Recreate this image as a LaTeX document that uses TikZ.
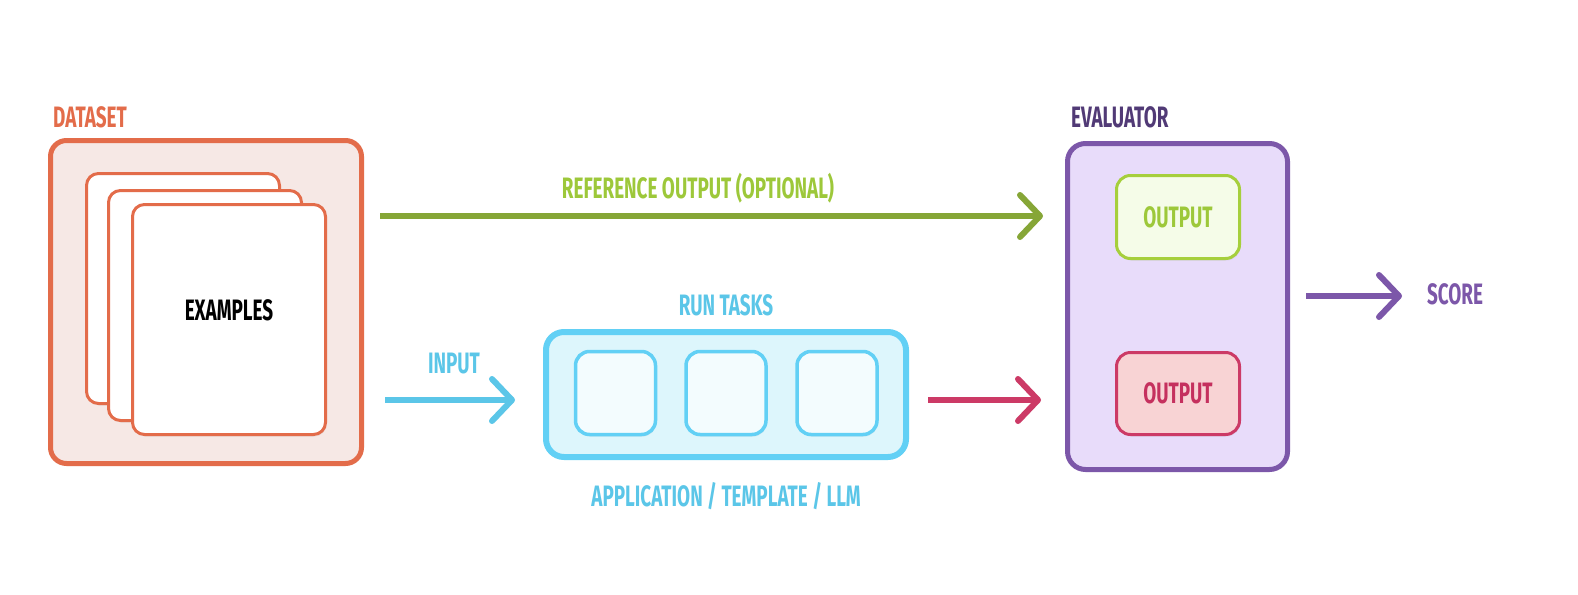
\documentclass[tikz,border=0pt]{standalone}
\usepackage{fontspec}
\setmainfont{Fira Sans}[FakeStretch=0.64]
\usetikzlibrary{arrows.meta,shadows}

\definecolor{dsline}{HTML}{E36C4A}
\definecolor{dsfill}{HTML}{F6E8E5}
\definecolor{refline}{HTML}{86A637}
\definecolor{reftext}{HTML}{9DC83A}
\definecolor{gline}{HTML}{A6CF3C}
\definecolor{gfill}{HTML}{F5FCE8}
\definecolor{rtline}{HTML}{62D0F5}
\definecolor{rtfill}{HTML}{DDF6FC}
\definecolor{rtinner}{HTML}{F3FCFE}
\definecolor{rttext}{HTML}{5BC6E8}
\definecolor{redline}{HTML}{CC3A66}
\definecolor{redfill}{HTML}{F8D3D4}
\definecolor{redtext}{HTML}{C5305E}
\definecolor{evline}{HTML}{7C57A9}
\definecolor{evfill}{HTML}{E8DCFA}
\definecolor{evtext}{HTML}{513A76}

\tikzset{
  box/.style={draw, inner sep=0pt, outer sep=0pt,
    drop shadow={shadow xshift=1pt, shadow yshift=-2pt, opacity=.12}},
  lbl/.style={font=\fontsize{29.5}{31}\selectfont\bfseries, inner sep=0pt},
  flow/.style={line width=6pt, -{Straight Barb[length=20pt,width=42pt,round]}}
}

\begin{document}
\begin{tikzpicture}[x=1pt,y=-1pt]
  \useasboundingbox[fill=white] (0,0) rectangle (1578,594);

  % dataset
  \node[box, draw=dsline, fill=dsfill, line width=5pt, rounded corners=16pt,
    minimum width=311pt, minimum height=323pt] (dataset) at (206,302) {};
  \node[lbl, text=dsline, anchor=west] (dslabel) at (53,117) {DATASET};
  \node[box, draw=dsline, fill=white, line width=3pt, rounded corners=12pt,
    minimum width=193pt, minimum height=230pt] (card1) at (183,288.5) {};
  \node[box, draw=dsline, fill=white, line width=3pt, rounded corners=12pt,
    minimum width=193pt, minimum height=230pt] (card2) at (205,305.5) {};
  \node[box, draw=dsline, fill=white, line width=3pt, rounded corners=12pt,
    minimum width=193pt, minimum height=230pt] (card3) at (229,319.5) {};
  \node[lbl, text=black] (examples) at (229,310) {EXAMPLES};

  % run tasks
  \node[box, draw=rtline, fill=rtfill, line width=6pt, rounded corners=18pt,
    minimum width=360pt, minimum height=125pt] (run) at (726,394.5) {};
  \foreach \i/\x in {1/615.5, 2/726, 3/837}
    \node[box, draw=rtline, fill=rtinner, line width=3.5pt, rounded corners=14pt,
      minimum width=80pt, minimum height=83pt] (task\i) at (\x,393) {};
  \node[lbl, text=rttext] (runlabel) at (726,305) {RUN TASKS};
  \node[lbl, text=rttext] (applabel) at (726,496) {APPLICATION / TEMPLATE / LLM};

  % evaluator
  \node[box, draw=evline, fill=evfill, line width=5pt, rounded corners=18pt,
    minimum width=220pt, minimum height=326pt] (eval) at (1177.5,306.5) {};
  \node[lbl, text=evtext, anchor=west] (evlabel) at (1071,117) {EVALUATOR};
  \node[box, draw=gline, fill=gfill, line width=3pt, rounded corners=14pt,
    minimum width=123pt, minimum height=83pt] (refout) at (1178,217) {};
  \node[lbl, text=reftext] at (refout) {OUTPUT};
  \node[box, draw=redline, fill=redfill, line width=3pt, rounded corners=14pt,
    minimum width=123pt, minimum height=82pt] (runout) at (1178,393.5) {};
  \node[lbl, text=redtext] at (runout) {OUTPUT};

  % arrows
  \coordinate (refA) at (380,216);
  \coordinate (refB) at (1043,216);
  \coordinate (inA) at (385,400);
  \coordinate (inB) at (515,400);
  \coordinate (outA) at (928,400);
  \coordinate (outB) at (1041,400);
  \coordinate (scA) at (1306,296);
  \coordinate (scB) at (1402,296);

  \draw[flow, refline] (refA) -- (refB);
  \node[lbl, text=reftext] (reflabel) at (698,188) {REFERENCE OUTPUT (OPTIONAL)};
  \draw[flow, rttext] (inA) -- (inB);
  \node[lbl, text=rttext] (inlabel) at (454,364) {INPUT};
  \draw[flow, redline] (outA) -- (outB);
  \draw[flow, evline] (scA) -- (scB);
  \node[lbl, text=evline] (score) at (1455,294) {SCORE};
\end{tikzpicture}
\end{document}
